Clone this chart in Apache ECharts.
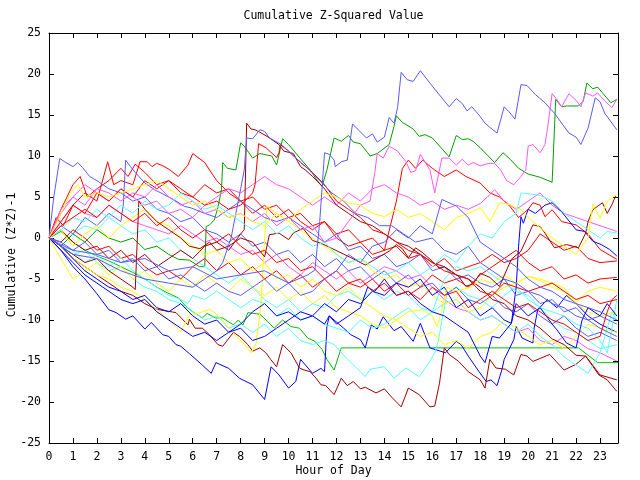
<!DOCTYPE html>
<html><head><meta charset="utf-8">
<script src="https://cdn.jsdelivr.net/npm/echarts@6/dist/echarts.min.js"></script>
<style>html,body{margin:0;padding:0;background:#fff}#c{width:640px;height:480px}</style>
</head><body><div id="c"></div>
<script>
// Each series: flat list of hour, value pairs
const g1 = [0,0, 0.5,-1, 1,0.5, 1.5,-0.5, 2,1, 2.5,0, 3,-0.5, 3.5,0, 4,-1.4, 4.5,-1, 5,-2, 5.4,-2.6, 5.86,-2.7, 6.28,-3.5, 6.5,-3.5, 6.56,1.4, 6.7,1.6, 6.9,2.2, 7.05,3.7, 7.2,5.9, 7.25,9.2, 7.45,8.5, 7.8,8.3, 8.0,11.6, 8.15,11.2, 8.5,9.75, 8.8,10.3, 9.3,10.0, 9.5,8.9, 9.75,12.1, 10.0,11.4, 10.4,10.0, 10.9,8.3, 11.15,7.2, 11.4,6.3, 11.6,8.3, 11.9,12.2, 12.2,11.8, 12.5,12.5, 12.7,11.7, 13.0,11.5, 13.3,10.4, 13.4,10.0, 13.7,10.3, 14.2,11.4, 14.4,13.6, 14.5,14.9, 14.75,14.1, 15.2,13.3, 15.45,12.4, 15.7,12.6, 16.0,12.2, 16.7,9.9, 17.0,12.5, 17.25,12.0, 17.5,12.1, 17.7,11.8, 18.0,11.0, 18.3,10.1, 18.6,9.2, 18.95,10.4, 19.25,9.6, 19.6,8.5, 20.0,7.8, 20.5,7.4, 21.0,6.8, 21.15,16.9, 21.4,16.0, 21.6,16.1, 22.1,16.1, 22.3,16.7, 22.45,18.9, 22.7,18.2, 22.9,18.4, 23.1,17.7, 23.45,16.5, 23.7,16.9];
const g2 = [0,0, 0.5,0.8, 1,-0.5, 1.5,-1.5, 2,-2.2, 2.5,-2.8, 3,-3.5, 3.5,-4.2, 4,-5, 4.5,-6, 4.95,-6.7, 5.4,-7.3, 5.7,-8.3, 6.0,-9.0, 6.4,-9.75, 6.6,-9.2, 6.95,-9.75, 7.25,-9.75, 7.7,-10.6, 7.9,-10.0, 8.1,-10.6, 8.3,-9.1, 8.8,-9.3, 9.06,-10.0, 9.4,-11.0, 9.75,-10.0, 10.1,-10.8, 10.45,-11.0, 10.8,-12.2, 11.1,-12.6, 11.4,-13.6, 11.6,-14.8, 11.9,-16.1, 12.2,-13.4, 22.1,-13.4, 22.9,-15.2, 23.75,-15.2];
const bTop = [0,0, 0.5,-0.8, 1,-1.5, 2,-2, 3,-3, 4,-2.5, 5,-4, 6,-3.5, 7,-5, 8,-4.5, 9,-4, 10,-5.5, 10.8,-4.5, 11.1,-3.9, 11.3,2, 11.5,10.4, 11.7,10.2, 11.9,9.5, 11.95,8.7, 12.2,9.3, 12.45,9.5, 12.67,13.9, 13.25,12.2, 13.5,12.7, 13.7,11.7, 14.0,12.3, 14.2,14.7, 14.4,14.0, 14.55,15.9, 14.7,20.2, 14.95,19.3, 15.2,19.1, 15.5,20.4, 15.95,18.7, 16.7,16.0, 17.0,17.0, 17.25,16.4, 17.45,15.5, 17.65,16.0, 17.95,15.0, 18.2,14.0, 18.4,13.5, 18.7,12.8, 19.0,16.0, 19.2,15.4, 19.45,14.5, 19.7,18.7, 19.95,18.6, 20.3,17.5, 20.7,16.5, 21.1,15.2, 21.7,12.8, 22.0,12.3, 22.2,11.4, 22.5,13.4, 22.8,17.1, 23.0,16.6, 23.2,15.2, 23.7,13.2];
const m1 = [0,0, 0.5,3, 1,5, 1.5,4, 2,6, 2.5,5.5, 3,4.5, 3.5,5.5, 4,5, 4.5,6.5, 5,5, 5.5,4, 6,4.5, 6.5,3, 7,3.5, 7.5,2.5, 8,3, 8.5,2, 9,3, 9.5,1.5, 10,2.5, 10.5,1, 11,1.5, 11.5,-0.5, 12,0, 12.5,2, 13,4, 13.4,4.5, 13.6,8, 13.7,10.3, 13.95,9.75, 14.2,11.2, 14.55,10.6, 14.9,9.3, 15.1,8.0, 15.3,8.2, 15.5,10.2, 15.9,8.3, 16.1,5.5, 16.4,9.75, 16.7,9.75, 17.0,8.9, 17.25,9.6, 17.5,8.9, 17.7,9.2, 18.0,8.8, 18.35,9.1, 18.6,9.1, 18.85,8.3, 19.1,7.0, 19.4,6.5, 19.7,7.5, 19.9,8.3, 20.0,11.2, 20.2,11.4, 20.5,10.4, 20.7,11.4, 20.8,13.2, 21.0,17.6, 21.2,16.9, 21.4,16.0, 21.7,17.6, 22.0,16.8, 22.2,16.0, 22.4,17.7, 22.7,17.3, 22.9,17.7, 23.2,16.7, 23.5,15.9, 23.7,16.9];
const dr1 = [0,0, 0.5,1, 1,-0.5, 1.5,-1.5, 2,-1, 2.5,-2.5, 3,-1.5, 3.5,-3, 4,-2, 4.5,-3.5, 5,-2.5, 5.5,-1.5, 6,-2.5, 6.5,-1, 7,-0.5, 7.5,-1.5, 8.0,0.5, 8.15,1, 8.25,14.0, 8.43,13.3, 8.6,13.2, 8.8,12.9, 9.1,12.4, 9.6,11.4, 9.8,10.6, 10.2,10.3, 10.5,8.7, 10.7,8.3, 11,7.5, 11.5,6, 12,4, 12.5,3, 13,2, 13.5,1.5, 14,0.5, 14.5,-0.5, 15,-1, 15.5,-2, 16,-3, 16.5,-3.5, 17,-4.5, 17.5,-5, 18,-6, 18.5,-7.5, 19,-8, 19.5,-9.5, 20,-10, 20.5,-11, 21,-12.3, 21.5,-13, 22,-14.3, 22.4,-14.4, 23,-16.7, 23.7,-17.3];
const b2 = [0,0, 1,-2, 2,-2.5, 3,-4, 4,-5, 5,-5.5, 6,-6, 6.5,-5, 7.0,-4, 7.25,-3, 7.6,0, 7.8,3, 8.0,6, 8.15,8.3, 8.25,12.2, 8.5,12.1, 8.8,13.2, 9.0,13.0, 9.2,12.2, 9.7,11.4, 10.0,10.6, 10.4,9.5, 10.8,8.5, 11.3,7, 11.8,5.5, 12.3,4.5, 12.8,3, 13.3,2.5, 13.8,1.5, 14.3,1.5, 14.8,0.5, 15.3,-0.5, 16,0, 16.5,-1.5, 17,-2, 17.5,-1, 18,-3, 18.5,-4, 19,-5, 19.5,-5.5, 20,-6.5, 20.5,-7, 21,-8, 21.5,-8.5, 22,-9.5, 22.5,-10, 23,-11, 23.7,-12];
const rj = [0,0, 0.5,2, 1,4, 1.5,3, 2,5.5, 2.5,4.5, 3,6, 3.5,5, 4,7, 4.5,6, 5,7, 5.5,5.5, 6,5, 6.5,4, 7,4.5, 7.5,3.5, 8,4, 8.5,5.5, 8.6,6.5, 8.75,11.5, 9.06,11.0, 9.5,9.8, 9.6,10.4, 9.65,11.4, 10.0,10.6, 10.5,9.2, 11,8, 11.5,6.5, 12,4.5, 12.5,3.5, 13,2.5, 13.5,1, 14,0.5, 14.5,-0.5, 15,-1.5, 15.5,-2, 16,-3, 16.5,-4, 17,-4.5, 17.5,-5, 18,-6.5, 18.5,-7, 19,-5.5, 19.5,-6, 20,-6.5, 20.5,-6, 21,-5.5, 21.5,-6.5, 22,-7.5, 22.5,-7, 23,-8, 23.7,-7.5];
const rPeak = [0,0, 0.3,2.5, 0.6,1.5, 1,4, 1.5,5.5, 2,4.5, 2.45,9.3, 2.7,6.5, 3,7, 3.5,6.5, 3.8,9.3, 4.1,9.3, 4.3,8.7, 4.5,9.1, 4.75,8.8, 5.0,8.4, 5.4,7.5, 5.8,8.9, 6.0,10.3, 6.5,9.2, 6.7,8.3, 7,7, 7.5,5.5, 8,4.5, 8.5,5, 9,3.5, 9.5,4, 10,2.5, 10.5,3, 11,1.5, 11.5,2, 12,0.5, 12.5,1, 13,-0.5, 13.5,0, 14,-1.5, 14.5,-1, 15,-2.5, 15.5,-2, 16,-3.5, 16.5,-2.5, 17,-4, 17.5,-3.5, 18,-3, 18.5,-2, 19,-3, 19.5,-2.5, 20,-1.5, 20.5,0.5, 21,-0.5, 21.5,-1.5, 22,-1, 22.5,-2.5, 23,-3, 23.7,-2.8];
const r3 = [0,0, 0.5,3.5, 1,6.5, 1.3,7.5, 1.6,5, 2,6, 2.5,7, 3,8.5, 3.3,7.5, 3.6,9, 4,8, 4.5,6.5, 5,7, 5.5,6, 6,5, 6.5,6.5, 7,5.5, 7.5,6, 8,4.5, 8.5,3, 9,4, 9.5,2.5, 10,3.5, 10.5,2, 11,1, 11.5,2, 12,0, 12.5,-1, 13,-0.5, 13.5,-2, 14,-1.5, 14.5,4.5, 14.75,8.5, 15,9.5, 15.3,8.5, 15.6,9.5, 16,8.5, 16.5,7.5, 17,8.3, 17.4,7.5, 18,6.7, 18.4,5.5, 18.8,5, 19.2,4, 19.6,2.5, 20,3.5, 20.2,4.3, 20.5,4.0, 20.7,2.6, 21,3.45, 21.4,2.0, 22,1.6, 22.5,0.5, 23,-1.4, 23.7,-2.6];
const r4 = [0,0, 0.5,-0.5, 1,1, 1.5,0, 2,-1.5, 2.5,-1, 3,-2.5, 3.5,-2, 4,-3.5, 4.5,-4.5, 5,-4, 5.5,-5, 6,-3.5, 6.5,-2.5, 7,-4, 7.5,-3, 8,-4.5, 8.5,-3.5, 9,-5, 9.5,-4, 10,-5.5, 10.5,-4.5, 11,-6, 11.5,-5, 12,-6.5, 12.5,-5.5, 13,-6, 13.5,-5, 14,-6.5, 14.5,-5.5, 15,-7, 15.5,-6, 16,-4.5, 16.5,-5.5, 17,-5, 17.5,-6, 18,-4.5, 18.5,-3.5, 19,-2.5, 19.5,-1.5, 20,-3, 20.5,-4, 21,-3.5, 21.5,-5, 22,-4.5, 22.5,-5.5, 23,-5, 23.7,-4.8];
const r5 = [0,0, 0.5,1.5, 1,2.5, 1.5,3.5, 2,2.5, 2.5,4, 3,3, 3.5,2, 4,3, 4.5,1.5, 5,2.5, 5.5,1, 6,0, 6.5,1, 7,-0.5, 7.5,0.5, 8,-1, 8.5,-2, 9,-1.5, 9.5,-3, 10,-2.5, 10.5,-4, 11,-3.5, 11.5,-5, 12,-4, 12.5,-5.5, 13,-5, 13.5,-6.5, 14,-5.5, 14.5,-7, 15,-6.5, 15.5,-7.5, 16,-6, 16.5,-7, 17,-6.5, 17.5,-8.5, 18,-7.5, 18.5,-6.5, 19,-7.5, 19.5,-8.5, 20,-8, 20.5,-9, 21,-10, 21.5,-10.5, 22,-11.5, 22.5,-12.5, 23,-12, 23.3,-9, 23.5,-7.5, 23.7,-7];
const dr2 = [0,0, 0.5,-1, 1,-2, 1.5,-3, 2,-2.5, 2.5,-4, 3,-5, 3.5,-6, 3.6,-6.3, 3.75,4.5, 4,3.5, 4.5,2, 5,1, 5.5,0, 5.86,-1.0, 6.3,-1.3, 6.7,-0.5, 7,-1.5, 7.5,-1, 8,0, 8.5,-0.5, 9,-2.3, 9.2,0.4, 9.6,0.6, 10,-0.2, 10.2,0.6, 10.6,1.2, 11,-0.3, 11.4,-0.7, 11.9,-1.4, 12.6,-2.4, 13.2,-3.3, 13.85,-2.2, 14.2,-1.6, 14.5,-0.8, 14.75,-1.3, 15.0,-2.4, 15.3,-1.2, 15.6,-1.8, 16.0,-2.85, 16.3,-3.7, 16.5,-3.5, 16.8,-4.1, 17.1,-4.7, 17.4,-5.9, 17.7,-5.6, 18.0,-4.3, 18.4,-4.8, 18.8,-5.9, 19.3,-2.6, 19.7,-1.6, 20.2,1.6, 20.5,1.4, 20.7,0.6, 21.1,-1.2, 21.6,-0.8, 22.1,-1.2, 22.4,0.6, 22.5,2.0, 22.7,3.45, 23.1,4.3, 23.3,3.0, 23.5,4.1, 23.65,5.1];
const drLow = [0,0, 0.5,-1, 1,-2.5, 1.5,-3.5, 2,-4.5, 2.5,-5.5, 3,-6.5, 3.5,-7, 4,-8, 4.5,-8.7, 5.3,-9.1, 5.8,-10.6, 5.86,-9.9, 6.1,-11.0, 6.4,-11.0, 6.7,-11.8, 7.05,-13.0, 7.25,-13.2, 7.7,-11.5, 7.95,-12.0, 8.3,-13.0, 8.5,-13.8, 8.8,-13.4, 9.05,-14.0, 9.25,-14.8, 9.5,-15.7, 9.75,-13.0, 10.1,-14.0, 10.45,-15.85, 10.65,-16.1, 10.9,-16.3, 11.15,-17.1, 11.35,-17.9, 11.55,-18.0, 11.9,-19.1, 12.2,-17.1, 12.45,-18.0, 12.7,-17.5, 13.0,-18.4, 13.2,-18.2, 13.65,-18.9, 14.0,-18.4, 14.3,-19.4, 14.7,-20.6, 15.0,-18.3, 15.45,-19.1, 15.9,-20.6, 16.1,-20.5, 16.3,-17.7, 16.5,-13.4, 16.7,-14.2, 17.1,-15.05, 17.5,-16.3, 18.0,-17.3, 18.2,-18.3, 18.4,-14.8, 18.65,-15.85, 19.05,-16.0, 19.4,-16.7, 19.7,-14.2, 19.95,-14.4, 20.2,-15.05, 20.9,-14.2, 21.5,-16.1, 22.0,-15.4, 22.4,-14.4, 22.95,-16.7, 23.3,-17.3, 23.7,-18.7];
const b3 = [0,0, 0.5,1.5, 1,0.5, 1.5,2.5, 2,1.5, 2.5,3, 3,2, 3.1,4, 3.2,9.5, 3.4,8.7, 3.6,8, 4.0,6.7, 4.4,5.9, 4.8,5.3, 5.2,4.7, 5.65,3.85, 5.9,3.7, 6.5,3, 7,2.5, 7.5,3.5, 8,4.5, 8.5,3.5, 9,2.5, 9.5,2, 10,2.5, 10.5,1.5, 11,0.5, 11.5,-0.5, 12,0.5, 12.5,-1.5, 13,-1, 13.5,-2.5, 14,-2, 14.5,-3.5, 15,-3, 15.5,-2, 16,-4, 16.5,-3.5, 17,-5, 17.5,-4.5, 18,-5.5, 18.5,-6, 19,-5, 19.5,-7, 20,-6.5, 20.5,-8, 21,-7.5, 21.5,-9, 22,-8.5, 22.5,-10, 23,-9.5, 23.7,-10.5];
const b1 = [0,0, 0.2,5, 0.45,9.7, 0.65,9.3, 1.0,8.7, 1.2,9.2, 1.4,8.6, 1.7,7.5, 2,7, 2.5,6, 3,5.5, 3.5,4.5, 4,5, 4.5,3.5, 5,3, 5.5,2, 6,2.5, 6.5,1, 7,0.5, 7.5,-0.5, 8,0.5, 8.5,-1, 9,-0.5, 9.5,-2, 10,-1.5, 10.5,-3, 11,-2, 11.5,-3.5, 12,-2.5, 12.5,-4, 13,-3.5, 13.5,-5, 14,-4, 14.5,-5.5, 15,-4.5, 15.5,-6, 16,-5.5, 16.5,-7, 17,-6, 17.5,-7.5, 18,-8, 18.5,-7, 19,-8.5, 19.5,-9, 20,-8, 20.5,-9.5, 21,-10.5, 21.5,-9.5, 22,-11, 22.5,-12, 23,-11.5, 23.7,-12.5];
const bd1 = [0,0, 0.5,-1.5, 1,-3.5, 1.5,-5, 2,-6.8, 2.5,-8.75, 2.8,-9.1, 3.2,-9.9, 3.5,-9.5, 4.0,-11.1, 4.27,-10.3, 4.75,-11.8, 5.0,-12.0, 5.3,-13.0, 5.5,-13.2, 5.86,-14.1, 6.4,-15.5, 6.77,-16.5, 6.97,-15.2, 7.5,-15.9, 7.95,-17.1, 8.5,-17.9, 9.0,-19.7, 9.27,-15.7, 9.6,-16.7, 10.0,-18.3, 10.3,-17.5, 10.5,-14.8, 11.0,-16.5, 11.35,-15.9, 11.5,-16.3, 11.6,-10.8, 11.7,-9.5, 11.9,-10.0, 12.3,-11.0, 12.6,-11.8, 13.0,-12.4, 13.2,-13.4, 13.45,-10.6, 13.7,-11.1, 13.95,-9.6, 14.4,-11.3, 14.7,-10.8, 15.2,-12.6, 15.5,-10.4, 15.9,-13.4, 16.55,-14.0, 17.0,-12.6, 17.2,-13.0, 17.5,-14.4, 17.95,-16.3, 18.25,-17.5, 18.45,-17.3, 18.7,-18.0, 18.9,-16.1, 19.0,-14.8, 19.4,-12.4, 19.5,-10.8, 19.75,-12.2, 20.2,-12.8, 20.25,-11.0, 20.4,-8.75, 20.8,-7.5, 21.2,-8.5, 21.6,-7, 22,-8, 22.5,-9.5, 23,-10.5, 23.7,-11.5];
const bd2 = [0,0, 0.5,-1, 1,-2.5, 1.5,-4, 2,-5, 2.5,-6, 3,-6.5, 3.5,-7.5, 4,-7, 4.5,-8.5, 5,-9, 5.5,-8, 6,-9.5, 6.5,-10.5, 7,-10, 7.5,-11.5, 8,-11, 8.5,-12.5, 9,-12, 9.5,-11, 10,-10, 10.5,-9, 11,-9.5, 11.5,-8, 12,-9, 12.5,-7.5, 13,-8, 13.5,-6.5, 14,-7, 14.5,-5.5, 15,-6, 15.5,-5, 16,-7, 16.5,-6, 17,-8.5, 17.5,-7.5, 18,-9.5, 18.5,-8.5, 19,-10, 19.3,-10.4, 19.5,-6, 19.6,-1, 19.7,2.6, 19.8,1.8, 20,3.5, 20.3,3, 20.7,4, 21.0,4.3, 21.4,3.2, 22.0,1.0, 22.35,0.8, 22.7,-0.4, 23.05,-0.8, 23.4,-1.4, 23.7,-2.2];
const bd3 = [0,0, 0.5,-1.5, 1,-3, 1.5,-4.5, 2,-5.5, 2.5,-6.5, 3,-7.5, 3.5,-8, 4,-7.5, 4.5,-9, 5,-10, 5.5,-11, 6,-12, 6.5,-11.5, 7,-12.5, 7.5,-11.5, 8,-10.5, 8.5,-9, 9,-8, 9.5,-9.5, 10,-9, 10.5,-10, 11,-9.5, 11.5,-10.5, 11.7,-9.5, 12,-10.5, 12.5,-9.5, 13,-8.5, 13.3,-6, 13.6,-6.5, 14,-5, 14.5,-7, 15,-6.5, 15.5,-8, 16,-9, 16.5,-9.5, 17,-10.5, 17.5,-11.5, 18,-14.4, 18.2,-15.2, 18.5,-12.0, 18.8,-12.2, 19.3,-10.4, 19.5,-8, 20,-9.5, 20.5,-8.5, 21,-10.5, 21.2,-11.2, 21.6,-12.8, 22.0,-13.4, 22.25,-10.0, 22.5,-8.5, 23,-9.5, 23.3,-8, 23.7,-9.5];
const b4 = [0,0, 0.5,-0.5, 1,-1.5, 1.5,-0.5, 2,-2, 2.5,-1.5, 3,-3, 3.5,-2.5, 4,-4, 4.5,-3.5, 5,-5, 5.5,-4.5, 6,-5.5, 6.5,-6.5, 7,-5.5, 7.5,-6.5, 8,-7, 8.5,-6, 9,-5, 9.5,-6.5, 10,-5.5, 10.5,-7, 11,-6.5, 11.5,-5, 12,-4, 12.5,-2, 13,-3, 13.5,-1, 14,-0.5, 14.5,1, 15,0, 15.5,1.5, 16,0.5, 16.4,4.7, 17,3.9, 17.5,2.5, 18,-0.5, 18.5,-1.5, 19,-2.5, 19.5,-3.5, 20,-5, 20.5,-6, 21,-6.5, 21.5,-7.5, 22,-8, 22.5,-8.5, 23,-9, 23.7,-10];
const c1 = [0,0, 0.5,1, 1,2.5, 1.5,2, 2,3.5, 2.5,2.5, 3,4, 3.5,3, 4,4.5, 4.5,3.5, 5,4, 5.5,5.5, 6,4.5, 6.5,3.5, 7,4, 7.5,3, 8,2, 8.5,1, 9,2, 9.5,0.5, 10,1.5, 10.5,0, 11,-1, 11.5,-0.5, 12,-2, 12.5,-3, 13,-2.5, 13.5,-3.5, 14,-4.5, 14.5,-4, 15,-3, 15.5,-4.5, 16,-3.5, 16.5,-2, 17,-3, 17.5,-1, 18,0.5, 18.5,0, 19,2, 19.5,3, 19.7,5.5, 20.5,5.2, 21,4.5, 21.5,3, 22,2, 22.5,1, 23,0, 23.3,0.8, 23.7,0.6];
const c2 = [0,0, 0.5,-1, 1,-2, 1.5,-1.5, 2,-3, 2.5,-4, 3,-3.5, 3.5,-5, 4,-6, 4.5,-6.5, 5,-7.5, 5.5,-8, 6,-9, 6.5,-10, 7,-9.5, 7.5,-11, 8,-10.5, 8.5,-11.5, 9,-10.5, 9.5,-12, 10,-11, 10.5,-12.5, 11,-13, 11.5,-12.5, 11.9,-13.0, 12.4,-14.6, 13.2,-16.9, 13.4,-16.0, 14.0,-15.7, 14.4,-17.1, 14.9,-15.85, 15.45,-16.9, 15.8,-15.5, 16.1,-14.0, 16.25,-12.6, 16.4,-10.0, 16.6,-7, 17,-6, 17.5,-7, 18,-7.5, 18.5,-8.5, 19,-7, 19.5,-6, 20,-7.5, 20.5,-8.5, 21,-10, 21.5,-11, 22,-11.5, 22.5,-12.5, 23,-13.5, 23.7,-13];
const c3 = [0,0, 0.5,-0.5, 1,0.5, 1.5,1.5, 2,1, 2.5,2.5, 3,1.5, 3.5,0.5, 4,1, 4.5,-0.5, 5,0, 5.5,-1.5, 6,-2.5, 6.5,-3.5, 7,-4.5, 7.5,-5.5, 8,-4.5, 8.5,-6, 9,-7.5, 9.5,-8.5, 10,-7.5, 10.5,-9, 11,-8, 11.5,-8.5, 12,-7, 12.5,-6.5, 13,-7.5, 13.5,-6.5, 14,-7.5, 14.5,-6.5, 15,-7, 15.5,-8.5, 16,-9, 16.5,-8, 17,-7.5, 17.5,-9, 18,-10, 18.5,-9.5, 19,-10.5, 19.5,-11.5, 20,-10.5, 20.5,-12, 21,-13, 21.5,-14.5, 22,-15.5, 22.5,-16.5, 22.7,-15.5, 23,-14, 23.3,-11, 23.5,-9, 23.7,-10];
const c4 = [0,0, 0.5,-1, 1,-1.5, 1.5,-3, 2,-2, 2.5,-3.5, 3,-2.4, 3.5,-4, 4,-5, 4.5,-6, 5,-7, 5.5,-7.5, 5.8,-8, 6,-7, 6.5,-7.5, 7,-6.5, 7.5,-7.5, 8,-8.5, 8.5,-7.5, 9,-8, 9.5,-9.5, 10,-8.5, 10.5,-10, 11,-9.5, 11.5,-10.5, 12,-11, 12.5,-11.5, 13,-10, 13.5,-11, 14,-10.5, 14.5,-9.5, 15,-8.5, 15.5,-10, 16,-9, 16.5,-5, 17,-3.5, 17.5,-4, 18,-3.5, 18.5,-4.5, 19,-5.5, 19.5,-6.5, 20,-7, 20.5,-8.5, 21,-9, 21.5,-9.5, 22,-10.5, 22.5,-11, 23,-12.5, 23.3,-14, 23.5,-11, 23.7,-7.5];
const y1 = [0,0, 0.5,3, 0.9,5.5, 1.2,6.5, 1.5,5, 2,5.5, 2.5,5, 3,5.5, 3.5,6, 4,6.5, 4.5,7, 5,6, 5.5,5, 6,4, 6.5,4.5, 7,3.5, 7.5,2.5, 8,3, 8.5,2, 9,1.5, 9.5,3, 10,2, 10.5,3.5, 11,4.5, 11.5,5.5, 12,5, 12.5,4.3, 13,4, 13.5,3, 14,2.6, 14.5,3.5, 15,2.5, 15.5,3, 16,2, 16.5,1, 17,2.5, 17.5,3, 18,3.7, 18.4,2.0, 18.8,4.3, 19.2,4.1, 19.7,3.45, 20.2,2, 20.6,1, 21,0, 21.5,-1, 22,-2, 22.5,0, 22.7,4.1, 23,2.4, 23.3,4.5, 23.7,5.3];
const y2 = [0,0, 0.5,-1, 1,-2.5, 1.5,-3.5, 2,-4.5, 2.5,-5, 3,-6, 3.5,-6.5, 4,-7.5, 4.5,-8.7, 5.0,-10, 5.5,-11.4, 5.86,-9.35, 6.2,-9.2, 6.7,-8.7, 7.0,-9.3, 7.3,-10.3, 7.7,-11.6, 8.1,-12.8, 8.45,-14.0, 8.65,-12.8, 8.85,-8, 9.0,0, 9.1,3.9, 9.5,3, 10,2, 10.5,1, 11,0, 11.5,-1, 12,-2, 12.5,-3, 13,-2.5, 13.5,-4, 14,-5, 14.5,-4.5, 15,-6, 15.5,-5.5, 16,-7, 16.5,-8, 17,-7.5, 17.5,-9, 18,-8.5, 18.5,-7, 19,-6, 19.5,-5.5, 20,-4.7, 20.5,-5, 21,-5.5, 21.5,-6.1, 22,-7.9, 22.5,-6.5, 23,-6, 23.7,-6.5];
const y3 = [0,0, 0.5,1, 1,-1, 1.5,0.5, 2,1.5, 2.5,0, 3,1.5, 3.5,2.5, 4,3.5, 4.5,2, 5,1.5, 5.5,0, 6,-1, 6.5,-2, 7,-1.5, 7.5,-3, 8,-2.5, 8.5,-4, 9,-3, 9.5,-5, 10,-4.5, 10.5,-6, 11,-5, 11.5,-6.5, 12,-7, 12.5,-6, 13,-7.5, 13.5,-8.5, 14,-9.5, 14.5,-10, 15,-9, 15.6,-8.75, 16.0,-9.5, 16.2,-10.8, 16.4,-8.7, 16.6,-6, 17,-6.5, 17.6,-6, 18,-5, 18.5,-5.5, 19,-4.5, 19.5,-5.5, 20,-4.7, 20.5,-5.2, 21,-6, 21.5,-6.5, 22,-8, 22.5,-9, 23,-9.5, 23.7,-9];
const y4 = [0,0, 0.3,-1.5, 0.7,-3.5, 1.0,-5, 1.5,-4, 2,-3, 2.5,-4.5, 3,-3.5, 3.5,-5, 4,-4, 4.5,-5.5, 5,-6.5, 5.5,-5, 6,-6, 6.5,-4.5, 7,-5.5, 7.5,-6.5, 8,-5, 8.5,-6, 9,-7, 9.5,-6, 10,-7.5, 10.5,-6.5, 11,-8, 11.5,-7, 12,-8.5, 12.5,-9, 13,-9.5, 13.5,-10.5, 14,-11, 14.5,-10, 15,-11, 15.5,-12, 16,-11.5, 16.5,-13, 17,-12.5, 17.5,-13.5, 18,-12, 18.5,-11.5, 19,-10, 19.5,-11, 20,-12, 20.5,-13, 21,-12.5, 21.5,-13.5, 22,-12, 22.5,-10.5, 23,-11, 23.7,-11.5];
const m2 = [0,0, 0.5,2, 1,4, 1.5,3, 2,2.5, 2.5,4, 3,3, 3.5,2, 4,1.5, 4.5,1, 5,0.5, 5.5,1.5, 6,0.5, 6.5,-0.5, 7,0, 7.5,-1, 8,-2, 8.5,-1.5, 9,-3, 9.5,-2, 10,-3.5, 10.5,-4.5, 11,-3, 11.5,-4, 12,-5, 12.5,-4, 13,-5.5, 13.5,-4.5, 14,-3.5, 14.5,-4, 15,-5, 15.5,-4.5, 16,-6, 16.5,-7.5, 17,-8.5, 17.5,-9, 18,-10, 18.5,-9.5, 19,-10.5, 19.5,-11.5, 20,-11, 20.5,-12.5, 21,-13, 21.5,-12, 22,-12.5, 22.5,-13.5, 23,-14, 23.7,-15];
const m3 = [0,0, 0.5,3.5, 1,5, 1.5,6.5, 2,5.5, 2.5,4.5, 3,6, 3.5,5, 4,4, 4.5,4.5, 5,3, 5.5,3.5, 6,2.5, 6.5,4, 7,5, 7.5,6, 8,5.5, 8.5,6.5, 9,7.5, 9.5,6.5, 10,6, 10.5,5, 11,4, 11.5,5, 12,4, 12.5,5.5, 13,4.5, 13.5,6, 14,6.5, 14.5,5.5, 15,5, 15.5,4, 16,4.5, 16.5,3.5, 17,4, 17.5,3.5, 18,4.2, 18.3,5, 18.6,5.9, 19,4.5, 19.5,3.5, 20,4.5, 20.5,5.5, 21,4, 21.5,3, 22,2.5, 22.5,2, 23,1.5, 23.7,0.8];

const RED='#ff0000', DRED='#a00000', GRN='#00a000', GRN2='#00c000', BLU='#0000ff', LBLU='#5a5aff', MAG='#ff55ff', CYN='#55ffff', YEL='#ffff00';
const seriesList = [
  [r3,RED],[g2,GRN2],[bd1,BLU],[m2,MAG],[c2,CYN],[y4,YEL],[drLow,DRED],
  [rPeak,RED],[g1,GRN],[b1,LBLU],[m3,MAG],[c3,CYN],[y2,YEL],[dr1,DRED],
  [r4,RED],[bd2,BLU],[b3,LBLU],[c4,CYN],[y3,YEL],[dr2,DRED],
  [rj,RED],[bd3,BLU],[b2,LBLU],[m1,MAG],[c1,CYN],[y1,YEL],
  [r5,RED],[b4,LBLU],[bTop,LBLU]
];
function pairs(a){const o=[];for(let i=0;i<a.length;i+=2)o.push([a[i],a[i+1]]);return o;}

const FONT='DejaVu Sans Mono';
const chart = echarts.init(document.getElementById('c'), null, {renderer:'canvas'});
const axisCommon = {
  axisLine:{show:true,onZero:false,lineStyle:{color:'#000',width:1}},
  axisTick:{show:true,inside:true,length:5,lineStyle:{color:'#000'}},
  splitLine:{show:false}
};
const txt = {fontFamily:FONT,fontSize:11.5,fill:'#000'};
chart.setOption({
  animation:false,
  backgroundColor:'#fff',
  grid:{left:49,right:22,top:33,bottom:37,containLabel:false,outerBoundsMode:'none'},
  graphic:[
    {type:'text',x:333.5,y:16,style:Object.assign({text:'Cumulative Z-Squared Value',align:'center',verticalAlign:'middle'},txt)},
    {type:'text',x:333.5,y:471,style:Object.assign({text:'Hour of Day',align:'center',verticalAlign:'middle'},txt)},
    {type:'text',x:12,y:255,rotation:Math.PI/2,style:Object.assign({text:'Cumulative (Z*Z)-1',align:'center',verticalAlign:'middle'},txt)}
  ],
  xAxis:[
    Object.assign({type:'value',min:0,max:23.75,interval:1,position:'bottom',
      axisLabel:{fontFamily:FONT,fontSize:11.5,color:'#000',margin:8,
        formatter:v=>Number.isInteger(v)?String(v):''}},axisCommon),
    Object.assign({type:'value',min:0,max:23.75,interval:1,position:'top',
      axisLabel:{show:false}},axisCommon)
  ],
  yAxis:[
    Object.assign({type:'value',min:-25,max:25,interval:5,position:'left',
      axisLabel:{fontFamily:FONT,fontSize:11.5,color:'#000',margin:8}},axisCommon),
    Object.assign({type:'value',min:-25,max:25,interval:5,position:'right',
      axisLabel:{show:false}},axisCommon)
  ],
  series: seriesList.map(([d,c])=>({type:'line',data:pairs(d),showSymbol:false,symbol:'none',
    lineStyle:{color:c,width:1},itemStyle:{color:c},silent:true,clip:true}))
});
</script></body></html>
